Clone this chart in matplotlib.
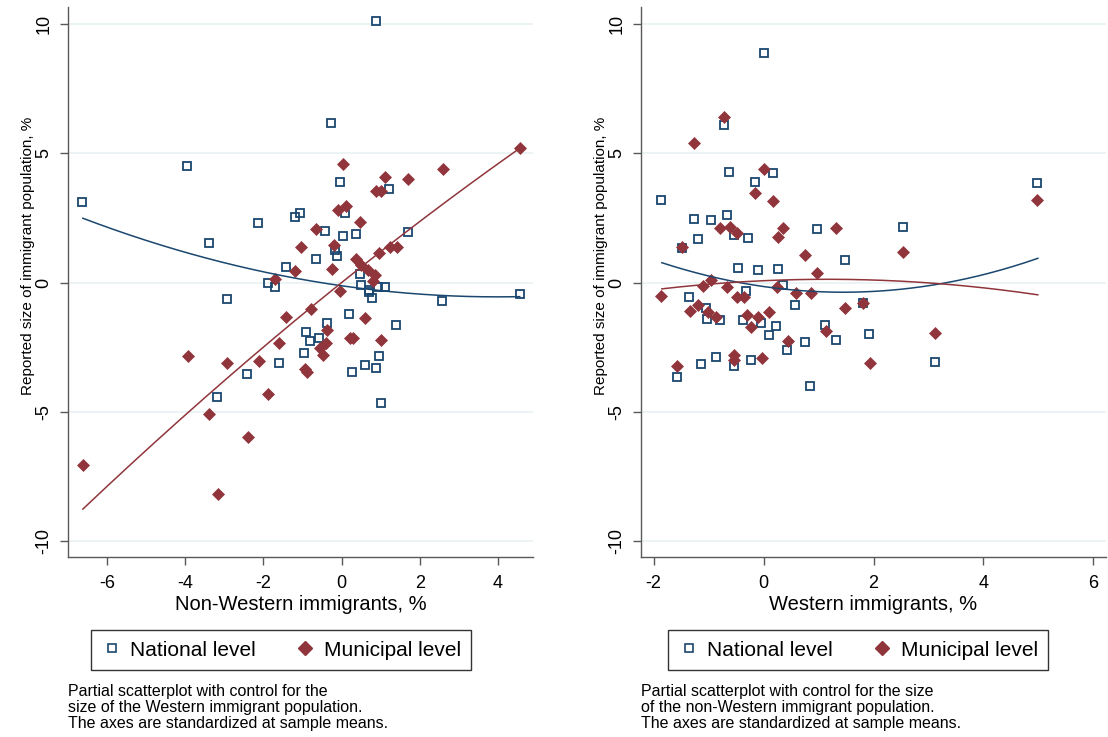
import numpy as np
import matplotlib.pyplot as plt
from matplotlib.lines import Line2D

plt.rcParams['font.family'] = ['Liberation Sans', 'DejaVu Sans']
plt.rcParams['axes.unicode_minus'] = False

navy = '#1a476f'
maroon = '#90353b'
grid_col = '#eaf2f3'
axis_col = '#595959'

# left panel: non-Western immigrants
nw_nat_x = [-6.64, -3.95, 0.89, -0.26, -0.04, 1.22, -2.14, -1.20, -1.07, 0.09, -3.40, -0.43,
            0.03, 0.37, 1.70, -0.17, -0.11, -0.66, -1.42, 0.46, -1.88, -1.71, 0.50, 0.70,
            0.94, 1.11, 0.79, 2.58, 4.56, -2.94, 0.71, 0.19, 1.39, -0.38, -0.90, -0.80,
            -0.57, -0.95, -1.61, -2.42, -3.19, 0.27, 0.60, 0.89, 0.96, 1.01]
nw_nat_y = [3.12, 4.52, 10.09, 6.17, 3.88, 3.62, 2.29, 2.55, 2.68, 2.68, 1.54, 1.98,
            1.79, 1.87, 1.95, 1.26, 1.04, 0.90, 0.61, 0.35, 0.00, -0.15, -0.09, -0.28,
            -0.15, -0.15, -0.60, -0.71, -0.44, -0.62, -0.35, -1.20, -1.62, -1.54, -1.92, -2.26,
            -2.15, -2.70, -3.10, -3.54, -4.40, -3.46, -3.17, -3.31, -2.84, -4.64]
nw_mun_x = [4.56, 0.03, 2.59, 1.11, 1.70, 0.87, 1.02, 0.11, -0.09, 0.47, -0.66, -1.05,
            -0.18, 1.24, 1.42, 0.96, -1.19, -0.25, 0.37, 0.51, 0.68, 0.85, 0.81, -1.71,
            -0.03, -0.79, -1.41, 0.61, -0.36, 0.21, 0.30, 1.01, -0.40, -0.54, -0.48, -0.93,
            -0.88, -1.61, -2.12, -2.93, -3.94, -1.87, -3.39, -2.40, -3.17, -6.62]
nw_mun_y = [5.19, 4.58, 4.38, 4.08, 4.00, 3.54, 3.54, 2.97, 2.81, 2.36, 2.07, 1.38,
            1.44, 1.39, 1.38, 1.13, 0.46, 0.53, 0.93, 0.68, 0.49, 0.30, 0.07, 0.15,
            -0.32, -1.00, -1.31, -1.38, -1.83, -2.15, -2.15, -2.21, -2.34, -2.53, -2.80, -3.33,
            -3.44, -2.35, -3.04, -3.10, -2.83, -4.30, -5.06, -5.98, -8.17, -7.03]

# right panel: Western immigrants
w_nat_x = [0.01, -0.72, -0.63, 0.18, -0.16, 4.98, -1.86, -1.27, -0.96, -0.67, -0.54, -0.29,
           -1.20, 0.97, 2.53, 1.48, -1.49, -0.47, -0.10, 0.26, -0.32, 0.36, -1.35, -1.04,
           -1.03, -0.80, -0.37, -0.04, 0.22, 0.09, 0.58, 1.12, 1.31, 0.75, 0.43, 1.92,
           1.80, 3.11, -0.87, -1.13, -0.54, -0.23, -1.58, 0.85]
w_nat_y = [8.87, 6.11, 4.27, 4.24, 3.87, 3.84, 3.19, 2.47, 2.41, 2.61, 1.84, 1.71,
           1.69, 2.07, 2.15, 0.89, 1.33, 0.57, 0.50, 0.53, -0.32, -0.09, -0.54, -0.99,
           -1.41, -1.44, -1.44, -1.57, -1.66, -2.02, -0.86, -1.63, -2.21, -2.28, -2.62, -1.98,
           -0.77, -3.06, -2.86, -3.13, -3.22, -2.98, -3.63, -4.00]
w_mun_x = [-0.72, -1.26, 0.01, -0.16, 0.18, 4.98, -0.80, -0.61, -0.48, 0.36, 0.27, 1.32,
           2.54, 0.76, -1.48, 0.98, -0.96, -1.11, -0.67, 0.24, -1.86, 0.59, 0.86, -0.49,
           -0.35, -1.34, -1.19, -1.01, -0.87, -0.30, -0.10, 0.10, -0.22, 1.49, 1.81, 1.13,
           3.11, 0.44, -0.03, -0.54, -0.54, -1.58, 1.93]
w_mun_y = [6.39, 5.41, 4.38, 3.48, 3.14, 3.21, 2.10, 2.16, 1.93, 2.10, 1.78, 2.10,
           1.20, 1.06, 1.37, 0.39, 0.10, -0.13, -0.18, -0.18, -0.51, -0.41, -0.41, -0.54,
           -0.54, -1.09, -0.86, -1.14, -1.34, -1.25, -1.34, -1.14, -1.70, -0.99, -0.77, -1.85,
           -1.93, -2.25, -2.93, -2.79, -2.98, -3.22, -3.11]

# quadratic fit curves (c2, c1, c0) and x span
nw_nat_fit = [0.0270, -0.2153, -0.12]
nw_mun_fit = [-0.0164, 1.213, 0.0]
nw_fit_span = [-6.62, 4.56]
w_nat_fit = [0.1046, -0.3035, -0.150]
w_mun_fit = [-0.0409, 0.0948, 0.075]
w_fit_span = [-1.85, 4.99]

y_ticks = [-10, -5, 0, 5, 10]

panels = [
    dict(nat=(nw_nat_x, nw_nat_y), mun=(nw_mun_x, nw_mun_y),
         fits=(nw_nat_fit, nw_mun_fit), span=nw_fit_span, xlim=(-7.0, 4.9),
         xticks=[-6, -4, -2, 0, 2, 4], xlabel='Non-Western immigrants, %', left=68,
         leg_cx=281,
         note='Partial scatterplot with control for the\nsize of the Western immigrant population.\n'
              'The axes are standardized at sample means.'),
    dict(nat=(w_nat_x, w_nat_y), mun=(w_mun_x, w_mun_y),
         fits=(w_nat_fit, w_mun_fit), span=w_fit_span, xlim=(-2.23, 6.23),
         xticks=[-2, 0, 2, 4, 6], xlabel='Western immigrants, %', left=641,
         leg_cx=858,
         note='Partial scatterplot with control for the size\nof the non-Western immigrant population.\n'
              'The axes are standardized at sample means.'),
]

W, H = 1108, 737
fig = plt.figure(figsize=(W / 100, H / 100), dpi=100)

for p in panels:
    ax = fig.add_axes([p['left'] / W, (H - 557) / H, 465 / W, 550 / H])
    ax.set_xlim(*p['xlim'])
    ax.set_ylim(-10.6, 10.65)
    for yt in y_ticks:
        ax.axhline(yt, color=grid_col, lw=1.3, zorder=0)

    nx, ny = p['nat']
    mx, my = p['mun']
    ax.plot(nx, ny, 's', ms=6.4, mfc='none', mec=navy, mew=1.3, zorder=2)
    ax.plot(mx, my, 'D', ms=6.6, mfc=maroon, mec=maroon, mew=0.5, zorder=3)

    xx = np.linspace(p['span'][0], p['span'][1], 200)
    for c, col in zip(p['fits'], [navy, maroon]):
        ax.plot(xx, np.polyval(c, xx), color=col, lw=1.1, zorder=4)

    for s in ['top', 'right']:
        ax.spines[s].set_visible(False)
    for s in ['left', 'bottom']:
        ax.spines[s].set_color(axis_col)
        ax.spines[s].set_linewidth(1.0)
    ax.set_xticks(p['xticks'])
    ax.set_yticks(y_ticks)
    ax.tick_params(colors=axis_col, labelcolor='black', length=6, width=1.0,
                   labelsize=13, pad=7)
    ax.tick_params(axis='y', pad=5)
    plt.setp(ax.get_yticklabels(), rotation=90, va='center')
    ax.set_xlabel(p['xlabel'], fontsize=14.5, labelpad=2)
    ax.set_ylabel('Reported size of immigrant population, %', fontsize=11)
    ax.yaxis.set_label_coords(-0.071, 0.547)

    handles = [Line2D([], [], ls='none', marker='s', ms=6, mfc='none', mec=navy, mew=1.2),
               Line2D([], [], ls='none', marker='D', ms=7.5, mfc=maroon, mec=maroon)]
    leg = fig.legend(handles, ['National level', 'Municipal level'], loc='center',
                     bbox_to_anchor=(p['leg_cx'] / W, (H - 650) / H), ncol=2,
                     fontsize=15, frameon=True, fancybox=False, edgecolor='black',
                     handletextpad=0.4, columnspacing=1.85, borderpad=0.5,
                     handlelength=1.0)
    leg.get_frame().set_linewidth(1.0)

    fig.text(p['left'] / W, (H - 684) / H, p['note'], fontsize=11.5, va='top',
             ha='left', linespacing=1.1)

fig.savefig('out.png', dpi=100)
